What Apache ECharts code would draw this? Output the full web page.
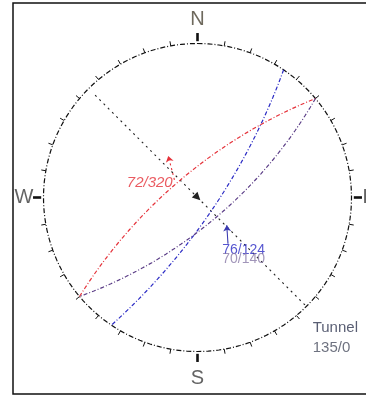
<!DOCTYPE html>
<html>
<head>
<meta charset="utf-8">
<script src="https://cdn.jsdelivr.net/npm/echarts@6/dist/echarts.min.js"></script>
<style>
html, body { margin: 0; padding: 0; background: #fff; }
#chart { width: 366px; height: 397px; }
</style>
</head>
<body>
<div id="chart"></div>
<script>
// planes, read as dip / dip direction
const planeNames = ['72/320', '76/124', '70/140'];
const planeDips = [72, 76, 70];
const planeDipDirs = [320, 124, 140];
const planeColors = ['#e5323a', '#2a2ac4', '#5a3c86'];
// tunnel axis, trend / plunge
const tunnelTrend = 135;
const tunnelPlunge = 0;
const tunnelText = ['Tunnel', '135/0'];
// compass
const compassLabels = ['N', 'E', 'S', 'W'];
const compassAngles = [0, 90, 180, 270];
const tickStep = 10;

const d2r = Math.PI / 180;

// equal angle, lower hemisphere
function project(trend, plunge) {
    const r = Math.tan((90 - plunge) * d2r / 2);
    return [r * Math.sin(trend * d2r), r * Math.cos(trend * d2r)];
}

function greatCircle(dip, dipDir) {
    const s = (dipDir - 90) * d2r;
    const sv = [Math.cos(s), Math.sin(s), 0];
    const dv = [Math.cos(dip * d2r) * Math.cos(dipDir * d2r), Math.cos(dip * d2r) * Math.sin(dipDir * d2r), Math.sin(dip * d2r)];
    let pts = [];
    for (let a = 0; a <= 180; a += 2) {
        const c = Math.cos(a * d2r), sn = Math.sin(a * d2r);
        const n = c * sv[0] + sn * dv[0];
        const e = c * sv[1] + sn * dv[1];
        const dn = Math.max(0, Math.min(1, c * sv[2] + sn * dv[2]));
        pts.push(project(Math.atan2(e, n) / d2r, Math.asin(dn) / d2r));
    }
    return pts;
}

function polar(az, r) {
    return [r * Math.sin(az * d2r), r * Math.cos(az * d2r)];
}

let circle = [];
for (let a = 0; a <= 360; a += 2) {
    circle.push(polar(a, 1));
}

let ticks = [];
for (let a = 0; a < 360; a += tickStep) {
    const major = compassAngles.indexOf(a) >= 0;
    ticks.push({
        coords: major ? [polar(a, 1.015), polar(a, 1.068)] : [polar(a, 1.0), polar(a, 1.03)],
        lineStyle: { width: major ? 2.6 : 1 }
    });
}

let series = [];

series.push({
    type: 'line',
    data: circle,
    showSymbol: false,
    clip: false,
    silent: true,
    lineStyle: { color: '#111', width: 1.2, type: [5, 2, 1, 2] }
});

series.push({
    type: 'lines',
    coordinateSystem: 'cartesian2d',
    clip: false,
    silent: true,
    lineStyle: { color: '#111', opacity: 1 },
    data: ticks
});

for (let i = 0; i < planeNames.length; i++) {
    series.push({
        name: planeNames[i],
        type: 'line',
        data: greatCircle(planeDips[i], planeDipDirs[i]),
        showSymbol: false,
        clip: false,
        silent: true,
        lineStyle: { color: planeColors[i], width: 1.2, type: [4, 2, 1, 2] }
    });
}

// tunnel line through the centre, arrow at the centre
const tunnelEnd = project(tunnelTrend, tunnelPlunge);
const tunnelStart = polar(tunnelTrend + 180, 0.94);
series.push({
    type: 'lines',
    coordinateSystem: 'cartesian2d',
    clip: false,
    silent: true,
    lineStyle: { color: '#222', width: 1.1, type: [2, 4], opacity: 1 },
    symbolSize: 8,
    data: [
        { coords: [tunnelStart, [0, 0]], symbol: ['none', 'triangle'] },
        { coords: [[0, 0], tunnelEnd], symbol: ['none', 'none'] }
    ]
});

// leader arrows of the labels
series.push({
    type: 'lines',
    coordinateSystem: 'cartesian2d',
    clip: false,
    silent: true,
    symbol: ['none', 'arrow'],
    symbolSize: 6,
    lineStyle: { width: 1.1, opacity: 1 },
    data: [
        { coords: [[0.198, -0.30], [0.19, -0.18]], lineStyle: { color: '#3a3ab0' } },
        { coords: [[-0.15, 0.115], [-0.19, 0.27]], lineStyle: { color: '#e5323a', type: [2, 3] } }
    ]
});

function textSeries(items) {
    return {
        type: 'scatter',
        symbolSize: 0,
        clip: false,
        silent: true,
        data: items.map(function (it) {
            return {
                value: it.pos,
                label: Object.assign({
                    show: true,
                    position: 'inside',
                    formatter: it.text,
                    fontFamily: 'Liberation Sans'
                }, it.style)
            };
        })
    };
}

const compassRadius = [1.153, 1.114, 1.172, 1.127];
let texts = [];
for (let i = 0; i < compassLabels.length; i++) {
    texts.push({
        pos: polar(compassAngles[i], compassRadius[i]),
        text: compassLabels[i],
        style: { fontSize: 20, color: i === 0 ? '#4a4434' : '#3c3c3c' }
    });
}
texts.push({ pos: [-0.31, 0.094], text: planeNames[0], style: { fontSize: 15, fontStyle: 'italic', color: planeColors[0] } });
texts.push({ pos: [0.30, -0.345], text: planeNames[1], style: { fontSize: 14, color: planeColors[1] } });
texts.push({ pos: [0.30, -0.40], text: planeNames[2], style: { fontSize: 14, color: '#8a7aa8' } });
texts.push({ pos: [0.895, -0.845], text: tunnelText[0], style: { fontSize: 15, color: '#2f3650' } });
texts.push({ pos: [0.87, -0.975], text: tunnelText[1], style: { fontSize: 15, color: '#4a4f60' } });
series.push(textSeries(texts));

const chart = echarts.init(document.getElementById('chart'), null, { renderer: 'canvas' });
chart.setOption({
    backgroundColor: '#fff',
    animation: false,
    grid: { left: 43.5, top: 43.5, width: 308, height: 308 },
    xAxis: { type: 'value', min: -1, max: 1, show: false },
    yAxis: { type: 'value', min: -1, max: 1, show: false },
    graphic: [{
        type: 'rect',
        shape: { x: 13, y: 3, width: 400, height: 391 },
        style: { fill: 'none', stroke: '#111', lineWidth: 1.5 },
        silent: true
    }],
    series: series
});
</script>
</body>
</html>
